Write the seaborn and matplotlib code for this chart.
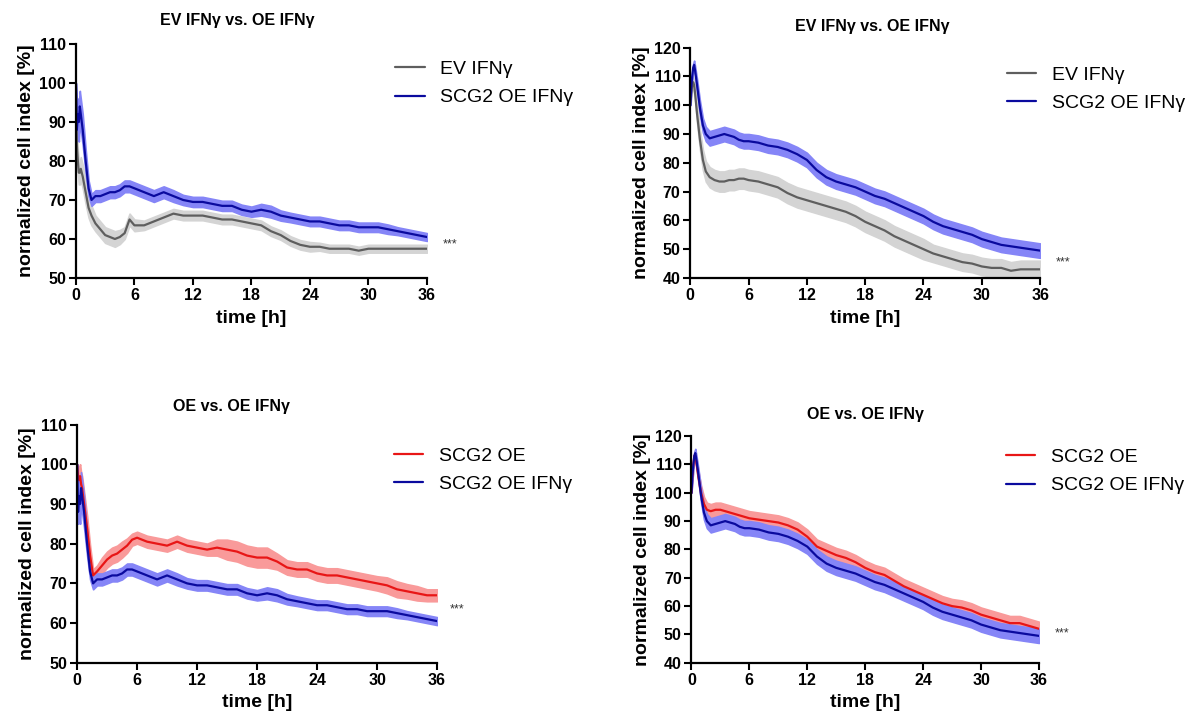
import matplotlib
matplotlib.use("Agg")
import matplotlib.pyplot as plt
import seaborn as sns

# time points [h]
t = [0, 0.1, 0.2, 0.3, 0.4, 0.5, 0.7, 1.0, 1.3, 1.6,
     2, 2.5, 3, 3.5, 4, 4.5, 5, 5.5, 6,
     7, 8, 9, 10, 11, 12, 13, 14, 15, 16,
     17, 18, 19, 20, 21, 22, 23, 24, 25, 26,
     27, 28, 29, 30, 31, 32, 33, 34, 35, 36]

## experiment A (left column)
oe_ifn_a = [100, 88, 92, 90, 94, 92, 88, 80, 73, 70,
            71, 71, 71.5, 72, 72, 72.5, 73.5, 73.5, 73,
            72, 71, 72, 71, 70, 69.5, 69.5, 69, 68.5, 68.5,
            67.5, 67, 67.5, 67, 66, 65.5, 65, 64.5, 64.5, 64,
            63.5, 63.5, 63, 63, 63, 62.5, 62, 61.5, 61, 60.5]
sd_oe_ifn_a = [0, 3, 4, 5, 4, 4, 4, 3, 2, 1.5,
               1.5, 1.5, 1.5, 1.5, 1.5, 1.5, 1.5, 1.5, 1.5,
               1.5, 1.5, 1.5, 1.5, 1.3, 1.3, 1.3, 1.3, 1.3, 1.3,
               1.3, 1.3, 1.5, 1.5, 1.3, 1.2, 1.2, 1.2, 1.2, 1.2,
               1.2, 1.2, 1.2, 1.2, 1.2, 1.2, 1.0, 1.0, 1.0, 1.0]
ev_ifn_a = [100, 84, 80, 77, 77, 78, 76, 72, 68, 66,
            64, 62.5, 61, 60.5, 60, 60.5, 61.5, 65, 63.5,
            63.5, 64.5, 65.5, 66.5, 66, 66, 66, 65.5, 65, 65,
            64.5, 64, 63.5, 62, 61, 59.5, 58.5, 58, 58, 57.5,
            57.5, 57.5, 57, 57.5, 57.5, 57.5, 57.5, 57.5, 57.5, 57.5]
sd_ev_ifn_a = [0, 3, 3, 3, 3, 3, 3, 3, 2.5, 2.5,
               2, 2, 2, 2, 2, 1.8, 1.5, 1.5, 1.5,
               1.2, 1.2, 1.2, 1.2, 1.2, 1.2, 1.2, 1.2, 1.2, 1.2,
               1.2, 1.2, 1.2, 1.2, 1.2, 1.2, 1.2, 1.2, 1.0, 1.0,
               1.0, 1.0, 1.0, 1.0, 1.0, 1.0, 1.0, 1.0, 1.0, 1.0]
oe_a = [100, 97, 96, 97, 95, 94, 90, 84, 77, 72,
        73, 74.5, 76, 77, 77.5, 78.5, 79.5, 81, 81.5,
        80.5, 80, 79.5, 80.5, 79.5, 79, 78.5, 79, 78.5, 78,
        77, 76.5, 76.5, 75.5, 74, 73.5, 73.5, 72.5, 72, 72,
        71.5, 71, 70.5, 70, 69.5, 68.5, 68, 67.5, 67, 67]
sd_oe_a = [0, 2.5, 3, 3, 3, 3, 3, 3, 2.5, 1.5,
           1.5, 2, 2, 2, 2, 2, 1.8, 1.5, 1.5,
           1.5, 1.5, 1.5, 1.5, 1.5, 1.5, 1.5, 2, 2.5, 2.5,
           2.5, 2.5, 2.5, 2, 1.8, 1.8, 1.8, 1.8, 1.8, 1.8,
           1.8, 1.8, 1.8, 1.8, 2, 2, 1.8, 1.8, 1.5, 1.5]

## experiment B (right column)
oe_ifn_b = [100, 106, 110, 113, 114, 112, 107, 99, 93, 90,
            88.5, 89, 89.5, 90, 89.5, 89, 88, 87.5, 87.5,
            87, 86, 85.5, 84.5, 83, 81, 77.5, 75, 73.5, 72.5,
            71.5, 70, 68.5, 67.5, 66, 64.5, 63, 61.5, 59.5, 58,
            57, 56, 55, 53.5, 52.5, 51.5, 51, 50.5, 50, 49.5]
sd_oe_ifn_b = [0, 1.5, 1.5, 1.5, 1.5, 1.5, 2, 2.5, 2.5, 2.5,
               2.5, 2.5, 2.5, 2.5, 2.5, 2.5, 2.5, 2.5, 2.5,
               2.5, 2.5, 2.5, 2.5, 2.5, 2.5, 2.5, 2.5, 2.5, 2.5,
               2.5, 2.5, 2.5, 2.5, 2.5, 2.5, 2.5, 2.5, 2.5, 2.5,
               2.5, 2.5, 2.5, 2.5, 2.5, 2.5, 2.5, 2.5, 2.5, 2.5]
ev_ifn_b = [100, 104, 107, 108, 107, 104, 97, 88, 81, 77,
            75, 74, 73.5, 73.5, 74, 74, 74.5, 74.5, 74,
            73.5, 72.5, 71.5, 69.5, 68, 67, 66, 65, 64, 63,
            61.5, 59.5, 58, 56.5, 54.5, 53, 51.5, 50, 48.5, 47.5,
            46.5, 45.5, 45, 44, 43.5, 43.5, 42.5, 43, 43, 43]
sd_ev_ifn_b = [0, 2, 2, 2, 2, 2, 3, 3.5, 3.5, 3.5,
               3.5, 3.5, 3.5, 3.5, 3.5, 3.5, 3.5, 3.5, 3.5,
               3.5, 3.5, 3.5, 3.5, 3.5, 3.5, 3.5, 3.5, 3.5, 3.5,
               3.5, 3.5, 3.5, 3.5, 3.5, 3.5, 3.5, 3.5, 3, 3,
               3, 3, 3, 3, 3, 3, 3, 3, 3, 3]
oe_b = [100, 106, 110, 113, 113, 111, 106, 100, 96, 94,
        93.5, 94, 94, 93.5, 93, 92.5, 92, 91.5, 91,
        90.5, 90, 89.5, 88.5, 87, 84.5, 81, 79.5, 78, 77,
        75.5, 73.5, 72, 71, 69, 67, 65.5, 64, 62.5, 61,
        60, 59.5, 58.5, 57, 56, 55, 54, 54, 53, 52]
sd_oe_b = [0, 1.5, 1.5, 1.5, 1.5, 1.5, 2, 2.5, 2.5, 2.5,
           2.5, 2.5, 2.5, 2.5, 2.5, 2.5, 2.5, 2.5, 2.5,
           2.5, 2.5, 2.5, 2.5, 2.5, 2.5, 2.5, 2.5, 2.5, 2.5,
           2.5, 2.5, 2.5, 2.5, 2.5, 2.5, 2.5, 2.5, 2.5, 2.5,
           2.5, 2.5, 2.5, 2.5, 2.5, 2.5, 2.5, 2.5, 2.5, 2.5]

x_ticks = [0, 6, 12, 18, 24, 30, 36]

sns.set_style("ticks")
plt.rcParams["font.family"] = ["Liberation Sans", "DejaVu Sans"]
plt.rcParams["text.color"] = "black"
plt.rcParams["axes.labelcolor"] = "black"
plt.rcParams["xtick.color"] = "black"
plt.rcParams["ytick.color"] = "black"

BLUE, BLUE_BAND = "#0A0A9E", "#8585F7"
GREY, GREY_BAND = "#5E5E5E", "#D4D4D4"
RED, RED_BAND = "#E81616", "#F99A9A"

panels = [
    dict(rect=[0.064, 0.615, 0.296, 0.324], title="EV IFNγ vs. OE IFNγ", tx=0.46, tpad=14,
         ylim=(50, 110),
         series=[("EV IFNγ", ev_ifn_a, sd_ev_ifn_a, GREY, GREY_BAND),
                 ("SCG2 OE IFNγ", oe_ifn_a, sd_oe_ifn_a, BLUE, BLUE_BAND)],
         leg=(0.91, 0.93), star=(37.6, 58.5)),
    dict(rect=[0.582, 0.615, 0.295, 0.319], title="EV IFNγ vs. OE IFNγ", tx=0.52, tpad=12,
         ylim=(40, 120),
         series=[("EV IFNγ", ev_ifn_b, sd_ev_ifn_b, GREY, GREY_BAND),
                 ("SCG2 OE IFNγ", oe_ifn_b, sd_oe_ifn_b, BLUE, BLUE_BAND)],
         leg=(0.905, 0.92), star=(37.6, 45.5)),
    dict(rect=[0.065, 0.082, 0.3035, 0.330], title="OE vs. OE IFNγ", tx=0.43, tpad=10,
         ylim=(50, 110),
         series=[("SCG2 OE", oe_a, sd_oe_a, RED, RED_BAND),
                 ("SCG2 OE IFNγ", oe_ifn_a, sd_oe_ifn_a, BLUE, BLUE_BAND)],
         leg=(0.88, 0.905), star=(37.3, 63.5)),
    dict(rect=[0.583, 0.082, 0.293, 0.314], title="OE vs. OE IFNγ", tx=0.50, tpad=12,
         ylim=(40, 120),
         series=[("SCG2 OE", oe_b, sd_oe_b, RED, RED_BAND),
                 ("SCG2 OE IFNγ", oe_ifn_b, sd_oe_ifn_b, BLUE, BLUE_BAND)],
         leg=(0.905, 0.945), star=(37.6, 50.5)),
]

fig = plt.figure(figsize=(11.86, 7.22), dpi=100)

for p in panels:
    ax = fig.add_axes(p["rect"])
    for name, mean, sd, col, band in p["series"]:
        lo = [m - s for m, s in zip(mean, sd)]
        hi = [m + s for m, s in zip(mean, sd)]
        ax.fill_between(t, lo, hi, color=band, edgecolor=band, linewidth=1.2)
        sns.lineplot(x=t, y=mean, color=col, linewidth=1.6, label=name, ax=ax)
    ax.set_xlim(0, 36)
    ax.set_ylim(*p["ylim"])
    ax.set_xticks(x_ticks)
    ax.set_yticks(range(p["ylim"][0], p["ylim"][1] + 1, 10))
    ax.set_title(p["title"], fontsize=11.5, fontweight="bold", pad=p["tpad"], x=p["tx"])
    ax.set_xlabel("time [h]", fontsize=14, fontweight="bold", labelpad=5)
    ax.set_ylabel("normalized cell index [%]", fontsize=14, fontweight="bold", labelpad=3)
    for s in ["top", "right"]:
        ax.spines[s].set_visible(False)
    for s in ["left", "bottom"]:
        ax.spines[s].set_linewidth(1.6)
        ax.spines[s].set_color("black")
    ax.tick_params(axis="both", direction="out", length=5, width=1.5, labelsize=11.5, pad=2)
    for lab in ax.get_xticklabels() + ax.get_yticklabels():
        lab.set_fontweight("bold")
    ax.legend(loc="upper left", bbox_to_anchor=p["leg"], frameon=False, fontsize=14,
              handlelength=1.5, handletextpad=0.8, labelspacing=0.55,
              borderaxespad=0, borderpad=0)
    ax.text(p["star"][0], p["star"][1], "***", fontsize=9, color="#333333",
            ha="left", va="center", clip_on=False)

plt.savefig("out.png", dpi=100)
